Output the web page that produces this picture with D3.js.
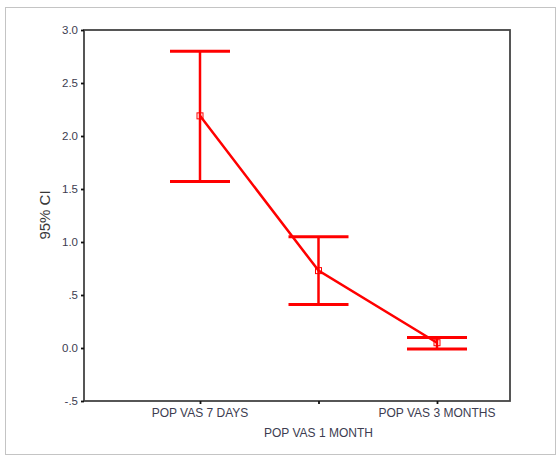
<!DOCTYPE html>
<html>
<head>
<meta charset="utf-8">
<script src="https://cdn.jsdelivr.net/npm/d3@7"></script>
<style>
  body { margin: 0; background: #fff; }
  svg text { font-family: "Liberation Sans", Arial, sans-serif; }
</style>
</head>
<body>
<script>
var categories = ["POP VAS 7 DAYS", "POP VAS 1 MONTH", "POP VAS 3 MONTHS"];
var means = [2.19, 0.73, 0.05];
var upper = [2.80, 1.05, 0.10];
var lower = [1.57, 0.41, -0.01];
var yTicks = [3.0, 2.5, 2.0, 1.5, 1.0, 0.5, 0.0, -0.5];
var yTickLabels = ["3.0", "2.5", "2.0", "1.5", "1.0", ".5", "0.0", "-.5"];

var width = 560, height = 459;

var frame = { left: 84, top: 30, right: 510, bottom: 401 };

var svg = d3.select("body").append("svg")
    .attr("width", width)
    .attr("height", height);

// outer light border
svg.append("rect")
    .attr("x", 5.5)
    .attr("y", 7.5)
    .attr("width", 550)
    .attr("height", 447)
    .attr("fill", "white")
    .attr("stroke", "#c4c4c4")
    .attr("stroke-width", 1);

var y = d3.scaleLinear()
    .domain([-0.5, 3.0])
    .range([frame.bottom, frame.top]);

var x = d3.scalePoint()
    .domain(categories)
    .range([200, 437]);

// plot frame
svg.append("rect")
    .attr("x", frame.left)
    .attr("y", frame.top)
    .attr("width", frame.right - frame.left)
    .attr("height", frame.bottom - frame.top)
    .attr("fill", "none")
    .attr("stroke", "#444")
    .attr("stroke-width", 1.8);

// y axis ticks
var yAxis = d3.axisLeft(y)
    .tickValues(yTicks)
    .tickSize(3)
    .tickPadding(3)
    .tickFormat(function (d, i) { return yTickLabels[i]; });

var gy = svg.append("g")
    .attr("transform", "translate(" + frame.left + ",0)")
    .call(yAxis);
gy.select(".domain").remove();
gy.selectAll(".tick line").attr("stroke", "#111").attr("stroke-width", 1.8);
gy.selectAll(".tick text")
    .attr("fill", "#3c3c50")
    .style("font-size", "11.5px");

// x axis ticks
var xAxis = d3.axisBottom(x)
    .tickSize(3)
    .tickFormat("");
var gx = svg.append("g")
    .attr("transform", "translate(0," + frame.bottom + ")")
    .call(xAxis);
gx.select(".domain").remove();
gx.selectAll(".tick line").attr("stroke", "#111").attr("stroke-width", 1.8);

// staggered category labels
svg.selectAll(".xlabel")
    .data(categories)
    .enter().append("text")
    .attr("class", "xlabel")
    .attr("x", function (d) { return x(d); })
    .attr("y", function (d, i) { return i % 2 === 0 ? 417 : 437; })
    .attr("text-anchor", "middle")
    .attr("fill", "#3c3c50")
    .style("font-size", "12px")
    .text(function (d) { return d; });

// y axis title
svg.append("text")
    .attr("transform", "translate(50,215) rotate(-90)")
    .attr("text-anchor", "middle")
    .attr("fill", "#383838")
    .style("font-size", "15px")
    .text("95% CI");

var red = "#ff0000";
var capHalf = 30;

// connecting line through means
var line = d3.line()
    .x(function (d, i) { return x(categories[i]); })
    .y(function (d) { return y(d); });

svg.append("path")
    .datum(means)
    .attr("d", line)
    .attr("fill", "none")
    .attr("stroke", red)
    .attr("stroke-width", 2.5);

var bars = svg.selectAll(".err")
    .data(categories)
    .enter().append("g")
    .attr("class", "err");

bars.append("line")
    .attr("x1", function (d) { return x(d); })
    .attr("x2", function (d) { return x(d); })
    .attr("y1", function (d, i) { return y(upper[i]); })
    .attr("y2", function (d, i) { return y(lower[i]); })
    .attr("stroke", red)
    .attr("stroke-width", 2.5);

bars.append("line")
    .attr("x1", function (d) { return x(d) - capHalf; })
    .attr("x2", function (d) { return x(d) + capHalf; })
    .attr("y1", function (d, i) { return y(upper[i]); })
    .attr("y2", function (d, i) { return y(upper[i]); })
    .attr("stroke", red)
    .attr("stroke-width", 3);

bars.append("line")
    .attr("x1", function (d) { return x(d) - capHalf; })
    .attr("x2", function (d) { return x(d) + capHalf; })
    .attr("y1", function (d, i) { return y(lower[i]); })
    .attr("y2", function (d, i) { return y(lower[i]); })
    .attr("stroke", red)
    .attr("stroke-width", 3);

// small open square markers at means
bars.append("rect")
    .attr("x", function (d) { return x(d) - 3; })
    .attr("y", function (d, i) { return y(means[i]) - 3; })
    .attr("width", 6)
    .attr("height", 6)
    .attr("fill", "none")
    .attr("stroke", red)
    .attr("stroke-width", 1);
</script>
</body>
</html>
